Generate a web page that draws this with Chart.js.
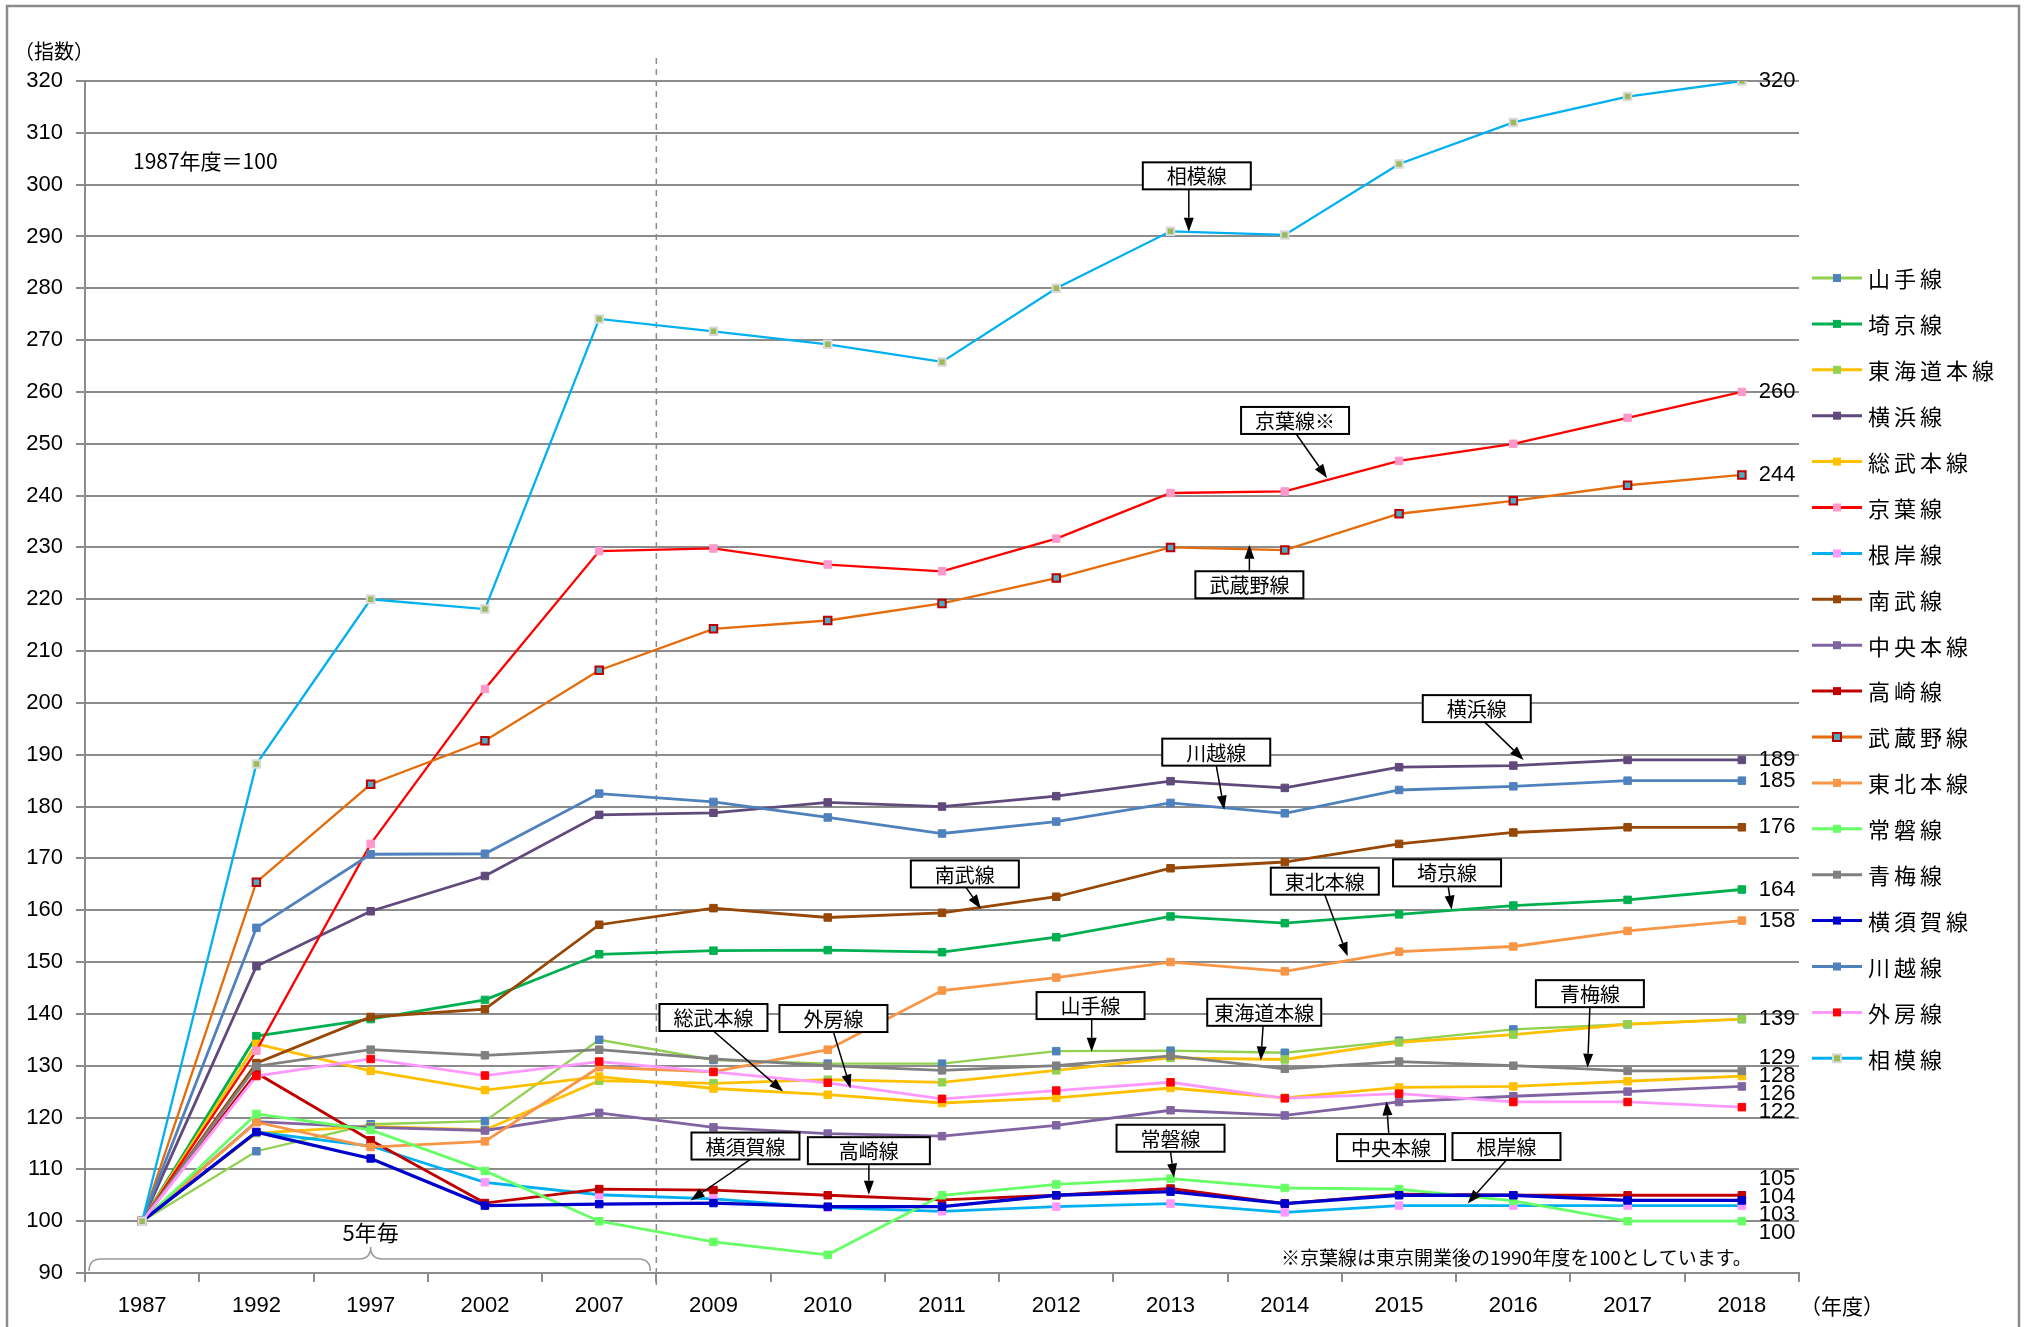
<!DOCTYPE html>
<html lang="ja">
<head>
<meta charset="utf-8">
<title>路線別輸送人員の推移</title>
<script src="https://cdn.jsdelivr.net/npm/chart.js@4.4.1/dist/chart.umd.min.js"></script>
<style>
  html, body { margin: 0; padding: 0; background: #fff; }
  #wrap { width: 2026px; height: 1327px; }
</style>
</head>
<body>
<div id="wrap"><canvas id="chart" width="2026" height="1327"></canvas></div>
<script>
// 年度（1987～2007は5年毎）
const years = ['1987', '1992', '1997', '2002', '2007', '2009', '2010', '2011', '2012', '2013', '2014', '2015', '2016', '2017', '2018'];

// 指数 (1987年度=100)
const yamanote  = [100, 113.5, 118.7, 119.3, 135.0, 131.1, 130.4, 130.4, 132.8, 132.9, 132.5, 134.8, 137.0, 138.0, 139.0];
const saikyo    = [100, 135.7, 139.0, 142.7, 151.5, 152.2, 152.3, 151.9, 154.8, 158.8, 157.5, 159.2, 160.9, 162.0, 164.0];
const tokaido   = [100, 117.0, 118.3, 117.6, 127.1, 126.6, 127.3, 126.8, 129.1, 131.5, 131.2, 134.5, 136.0, 138.0, 139.0];
const yokohama  = [100, 149.2, 159.8, 166.6, 178.4, 178.8, 180.8, 180.0, 182.0, 184.9, 183.6, 187.6, 187.9, 189.0, 189.0];
const sobu      = [100, 134.2, 129.0, 125.3, 127.9, 125.6, 124.4, 122.8, 123.8, 125.7, 123.8, 125.8, 126.0, 127.0, 128.0];
const keiyo     = [100, 132.9, 172.8, 202.7, 229.3, 229.8, 226.7, 225.4, 231.7, 240.5, 240.8, 246.7, 250.0, 255.0, 260.0];
const negishi   = [100, 117.2, 114.5, 107.5, 105.1, 104.3, 102.6, 101.9, 102.8, 103.4, 101.7, 103.0, 103.0, 103.0, 103.0];
const nambu     = [100, 130.5, 139.4, 140.9, 157.2, 160.4, 158.6, 159.5, 162.6, 168.1, 169.3, 172.8, 175.0, 176.0, 176.0];
const chuo      = [100, 119.2, 118.1, 117.5, 120.9, 118.1, 116.9, 116.4, 118.5, 121.4, 120.4, 123.0, 124.1, 125.0, 126.0];
const takasaki  = [100, 128.6, 115.6, 103.5, 106.2, 106.0, 105.0, 104.1, 105.0, 106.3, 103.4, 105.2, 105.0, 105.0, 105.0];
const musashino = [100, 165.4, 184.3, 192.7, 206.3, 214.3, 215.9, 219.2, 224.1, 230.0, 229.5, 236.5, 239.0, 242.0, 244.0];
const tohoku    = [100, 119.1, 114.3, 115.4, 129.7, 128.8, 133.1, 144.5, 147.0, 150.0, 148.2, 152.0, 153.0, 156.0, 158.0];
const joban     = [100, 120.7, 117.6, 109.7, 100.0, 96.0, 93.5, 105.0, 107.1, 108.2, 106.4, 106.2, 103.9, 100.0, 100.0];
const ome       = [100, 129.9, 133.1, 132.0, 133.1, 131.3, 130.0, 129.1, 130.0, 131.9, 129.4, 130.8, 130.0, 129.0, 129.0];
const yokosuka  = [100, 117.2, 112.1, 103.0, 103.3, 103.5, 102.8, 102.8, 105.0, 105.7, 103.4, 105.0, 105.0, 104.0, 104.0];
const kawagoe   = [100, 156.6, 170.8, 170.9, 182.5, 180.9, 177.9, 174.8, 177.1, 180.7, 178.7, 183.2, 183.9, 185.0, 185.0];
const sotobo    = [100, 128.0, 131.3, 128.1, 130.8, 128.8, 126.7, 123.6, 125.2, 126.8, 123.7, 124.6, 123.0, 123.0, 122.0];
const sagami    = [100, 188.2, 220.0, 218.1, 274.1, 271.7, 269.2, 265.8, 280.0, 291.0, 290.3, 304.0, 312.0, 317.0, 320.0];

// 路線ごとの色 (線, マーカー)
const lines = [
  { name: '山手線',     data: yamanote,  color: '#92D050', marker: '#4F81BD', width: 2.3 },
  { name: '埼京線',     data: saikyo,    color: '#00B050', marker: '#00B050', width: 2.8 },
  { name: '東海道本線', data: tokaido,   color: '#FFC000', marker: '#92D050', width: 2.8 },
  { name: '横浜線',     data: yokohama,  color: '#604A7B', marker: '#604A7B', width: 2.8 },
  { name: '総武本線',   data: sobu,      color: '#FFC000', marker: '#FFC000', width: 2.8 },
  { name: '京葉線',     data: keiyo,     color: '#FF0000', marker: '#FF99CC', width: 2.3 },
  { name: '根岸線',     data: negishi,   color: '#00B0F0', marker: '#FF99FF', width: 2.8 },
  { name: '南武線',     data: nambu,     color: '#974706', marker: '#974706', width: 2.8 },
  { name: '中央本線',   data: chuo,      color: '#8064A2', marker: '#8064A2', width: 2.8 },
  { name: '高崎線',     data: takasaki,  color: '#C00000', marker: '#C00000', width: 2.8 },
  { name: '武蔵野線',   data: musashino, color: '#E46C0A', marker: '#4BACC6', border: '#C00000', width: 2.3 },
  { name: '東北本線',   data: tohoku,    color: '#F79646', marker: '#F79646', width: 2.8 },
  { name: '常磐線',     data: joban,     color: '#66FF66', marker: '#66FF66', width: 2.8 },
  { name: '青梅線',     data: ome,       color: '#808080', marker: '#808080', width: 2.8 },
  { name: '横須賀線',   data: yokosuka,  color: '#0000CC', marker: '#0000CC', width: 3.3 },
  { name: '川越線',     data: kawagoe,   color: '#4F81BD', marker: '#4F81BD', width: 2.8 },
  { name: '外房線',     data: sotobo,    color: '#FF99FF', marker: '#FF0000', width: 2.8 },
  { name: '相模線',     data: sagami,    color: '#00B0F0', marker: '#9BBB59', border: '#D9D9D9', width: 2.3 }
];

// 吹き出し: box=[年度位置, 指数], from=矢印の始点(年度位置), to=矢印の先
const callouts = [
  { text: '相模線',     box: [9.23, 301.7],  from: 9.16,  to: [9.16, 290.9] },
  { text: '京葉線※',   box: [10.09, 254.5], from: 10.10, to: [10.37, 243.4] },
  { text: '武蔵野線',   box: [9.69, 222.8],  from: 9.69,  to: [9.69, 230.5] },
  { text: '横浜線',     box: [11.68, 198.9], from: 11.75, to: [12.09, 189.0] },
  { text: '川越線',     box: [9.40, 190.5],  from: 9.40,  to: [9.47, 179.4] },
  { text: '南武線',     box: [7.20, 167.0],  from: 7.21,  to: [7.34, 160.3] },
  { text: '東北本線',   box: [10.35, 165.6], from: 10.35, to: [10.55, 151.1] },
  { text: '埼京線',     box: [11.42, 167.2], from: 11.43, to: [11.46, 160.1] },
  { text: '総武本線',   box: [5.00, 139.3],  from: 5.00,  to: [5.61, 125.0] },
  { text: '外房線',     box: [6.05, 139.1],  from: 6.05,  to: [6.20, 125.6] },
  { text: '山手線',     box: [8.30, 141.6],  from: 8.31,  to: [8.31, 132.7] },
  { text: '東海道本線', box: [9.82, 140.3],  from: 9.81,  to: [9.79, 131.0], w: 114 },
  { text: '青梅線',     box: [12.67, 143.9], from: 12.67, to: [12.65, 129.6] },
  { text: '中央本線',   box: [10.93, 114.2], from: 10.91, to: [10.89, 123.1] },
  { text: '根岸線',     box: [11.94, 114.4], from: 11.94, to: [11.60, 103.4] },
  { text: '横須賀線',   box: [5.28, 114.5],  from: 5.32,  to: [4.80, 104.0] },
  { text: '高崎線',     box: [6.36, 113.6],  from: 6.36,  to: [6.36, 105.1], w: 122 },
  { text: '常磐線',     box: [9.00, 116.0],  from: 9.00,  to: [9.03, 108.4] }
];

const numFont = '"Liberation Sans", "Noto Sans CJK JP", sans-serif';
const jpFont = '"Noto Sans CJK JP", "Liberation Sans", sans-serif';
const gridGray = '#8c8c8c';

function drawMarker(ctx, x, y, s, fill, border) {
  ctx.fillStyle = fill;
  ctx.fillRect(x - s / 2, y - s / 2, s, s);
  if (border) {
    ctx.strokeStyle = border;
    ctx.lineWidth = 2;
    ctx.strokeRect(x - s / 2, y - s / 2, s, s);
  }
}

// 重なる数値ラベルを縦にずらす
function spread(items, gap) {
  items.sort((a, b) => a.y - b.y);
  let blocks = items.map(it => ({ list: [it], sum: it.y }));
  let merged = true;
  while (merged) {
    merged = false;
    for (let k = 1; k < blocks.length; k++) {
      const a = blocks[k - 1], b = blocks[k];
      const aEnd = a.sum / a.list.length + (a.list.length - 1) * gap / 2;
      const bStart = b.sum / b.list.length - (b.list.length - 1) * gap / 2;
      if (bStart - aEnd < gap) {
        blocks.splice(k - 1, 2, { list: a.list.concat(b.list), sum: a.sum + b.sum });
        merged = true;
        break;
      }
    }
  }
  blocks.forEach(b => {
    const top = b.sum / b.list.length - (b.list.length - 1) * gap / 2;
    b.list.forEach((it, j) => { it.ly = top + j * gap; });
  });
}

const decor = {
  id: 'decor',
  beforeDraw(chart) {
    const ctx = chart.ctx;
    ctx.save();
    ctx.fillStyle = '#fff';
    ctx.fillRect(0, 0, chart.width, chart.height);
    ctx.restore();
  },
  beforeDatasetsDraw(chart) {
    const ctx = chart.ctx, x = chart.scales.x, area = chart.chartArea;
    ctx.save();
    // 2007と2009の間の区切り線
    const xd = (x.getPixelForValue(4) + x.getPixelForValue(5)) / 2;
    ctx.strokeStyle = '#8a8a8a';
    ctx.lineWidth = 1.5;
    ctx.setLineDash([6, 5]);
    ctx.beginPath();
    ctx.moveTo(xd, 58);
    ctx.lineTo(xd, area.bottom + 15);
    ctx.stroke();
    ctx.setLineDash([]);

    // 5年毎の括弧
    const x0 = x.getPixelForValue(-0.5) + 4, x1 = xd - 6, xm = x.getPixelForValue(2);
    const yb = area.bottom - 2, yf = area.bottom - 14, yt = area.bottom - 26;
    ctx.strokeStyle = '#9a9a9a';
    ctx.lineWidth = 1.5;
    ctx.beginPath();
    ctx.moveTo(x0, yb);
    ctx.quadraticCurveTo(x0, yf, x0 + 12, yf);
    ctx.lineTo(xm - 12, yf);
    ctx.quadraticCurveTo(xm, yf, xm, yt);
    ctx.quadraticCurveTo(xm, yf, xm + 12, yf);
    ctx.lineTo(x1 - 12, yf);
    ctx.quadraticCurveTo(x1, yf, x1, yb);
    ctx.stroke();
    ctx.fillStyle = '#000';
    ctx.font = '22px ' + jpFont;
    ctx.textAlign = 'center';
    ctx.textBaseline = 'middle';
    ctx.fillText('5年毎', xm, yt - 14);
    ctx.restore();
  },
  afterDatasetsDraw(chart) {
    const ctx = chart.ctx, x = chart.scales.x, y = chart.scales.y;
    ctx.save();

    // 右端の数値ラベル
    const last = years.length - 1;
    const seen = {};
    const labels = [];
    lines.forEach(l => {
      const v = Math.round(l.data[last]);
      if (seen[v]) return;
      seen[v] = true;
      labels.push({ text: String(v), y: y.getPixelForValue(l.data[last]) });
    });
    spread(labels, 18);
    ctx.fillStyle = '#000';
    ctx.font = '22px ' + numFont;
    ctx.textAlign = 'left';
    ctx.textBaseline = 'middle';
    const lx = x.getPixelForValue(last) + 17;
    labels.forEach(l => ctx.fillText(l.text, lx, l.ly));

    // 吹き出しと矢印
    callouts.forEach(c => {
      const bx = x.getPixelForValue(c.box[0]), by = y.getPixelForValue(c.box[1]);
      const w = c.w || 108, h = 27;
      const tx = x.getPixelForValue(c.to[0]), ty = y.getPixelForValue(c.to[1]);
      const sx = x.getPixelForValue(c.from);
      const sy = ty > by ? by + h / 2 : by - h / 2;
      const ang = Math.atan2(ty - sy, tx - sx);
      const hl = 14, hw = 5;
      const ex = tx - hl * Math.cos(ang), ey = ty - hl * Math.sin(ang);
      ctx.strokeStyle = '#000';
      ctx.lineWidth = 1.5;
      ctx.beginPath();
      ctx.moveTo(sx, sy);
      ctx.lineTo(ex, ey);
      ctx.stroke();
      ctx.fillStyle = '#000';
      ctx.beginPath();
      ctx.moveTo(tx, ty);
      ctx.lineTo(ex + hw * Math.sin(ang), ey - hw * Math.cos(ang));
      ctx.lineTo(ex - hw * Math.sin(ang), ey + hw * Math.cos(ang));
      ctx.closePath();
      ctx.fill();

      ctx.fillStyle = '#fff';
      ctx.fillRect(bx - w / 2, by - h / 2, w, h);
      ctx.lineWidth = 2;
      ctx.strokeRect(bx - w / 2, by - h / 2, w, h);
      ctx.fillStyle = '#000';
      ctx.font = '20px ' + jpFont;
      ctx.textAlign = 'center';
      ctx.textBaseline = 'middle';
      ctx.fillText(c.text, bx, by + 1);
    });
    ctx.restore();
  },
  afterDraw(chart) {
    const ctx = chart.ctx, x = chart.scales.x;
    ctx.save();
    ctx.fillStyle = '#000';
    ctx.textBaseline = 'middle';

    ctx.font = '20px ' + jpFont;
    ctx.textAlign = 'left';
    ctx.fillText('（指数）', 14, 51);
    ctx.font = '21px ' + jpFont;
    ctx.fillText('1987年度＝100', 133, 161);
    ctx.font = '21px ' + jpFont;
    ctx.fillText('（年度）', 1800, 1306);
    ctx.font = '19px ' + jpFont;
    ctx.textAlign = 'right';
    ctx.fillText('※京葉線は東京開業後の1990年度を100としています。', x.getPixelForValue(years.length - 1) + 10, 1258);

    // 凡例
    ctx.textAlign = 'left';
    ctx.font = '22px ' + jpFont;
    ctx.letterSpacing = '4px';
    lines.forEach((l, i) => {
      const ly = 278 + i * 45.9;
      ctx.strokeStyle = l.color;
      ctx.lineWidth = 3;
      ctx.beginPath();
      ctx.moveTo(1812, ly);
      ctx.lineTo(1862, ly);
      ctx.stroke();
      drawMarker(ctx, 1837, ly, 8, l.marker, l.border);
      ctx.fillStyle = '#000';
      ctx.fillText(l.name, 1868, ly + 1);
    });
    ctx.letterSpacing = '0px';

    // 外枠
    ctx.strokeStyle = '#8a8a8a';
    ctx.lineWidth = 2.5;
    ctx.strokeRect(7, 6, 2012, 1340);
    ctx.restore();
  }
};

new Chart(document.getElementById('chart'), {
  type: 'line',
  data: {
    labels: years,
    datasets: lines.map((l, i) => ({
      label: l.name,
      data: l.data,
      borderColor: l.color,
      borderWidth: l.width,
      backgroundColor: l.marker,
      pointStyle: 'rect',
      pointRadius: 5.3,
      pointBackgroundColor: l.marker,
      pointBorderColor: l.border || l.marker,
      pointBorderWidth: l.border ? 2 : 1,
      tension: 0,
      fill: false,
      order: lines.length - i
    }))
  },
  options: {
    responsive: false,
    animation: false,
    devicePixelRatio: 1,
    layout: { padding: { left: 0, top: 81, right: 227, bottom: 0 } },
    plugins: {
      legend: { display: false },
      tooltip: { enabled: false }
    },
    scales: {
      x: {
        type: 'category',
        offset: true,
        grid: { offset: true, drawOnChartArea: false, drawTicks: true, tickLength: 9, color: gridGray, lineWidth: 2 },
        border: { color: gridGray, width: 2 },
        ticks: { color: '#000', font: { size: 22, family: numFont }, padding: 11, maxRotation: 0, autoSkip: false },
        afterFit(s) { s.height = 54; }
      },
      y: {
        min: 90,
        max: 320,
        grid: { color: gridGray, lineWidth: 2, tickLength: 9 },
        border: { color: gridGray, width: 2 },
        ticks: { stepSize: 10, color: '#000', font: { size: 22, family: numFont }, padding: 13 },
        afterFit(s) { s.width = 85; }
      }
    }
  },
  plugins: [decor]
});
</script>
</body>
</html>
